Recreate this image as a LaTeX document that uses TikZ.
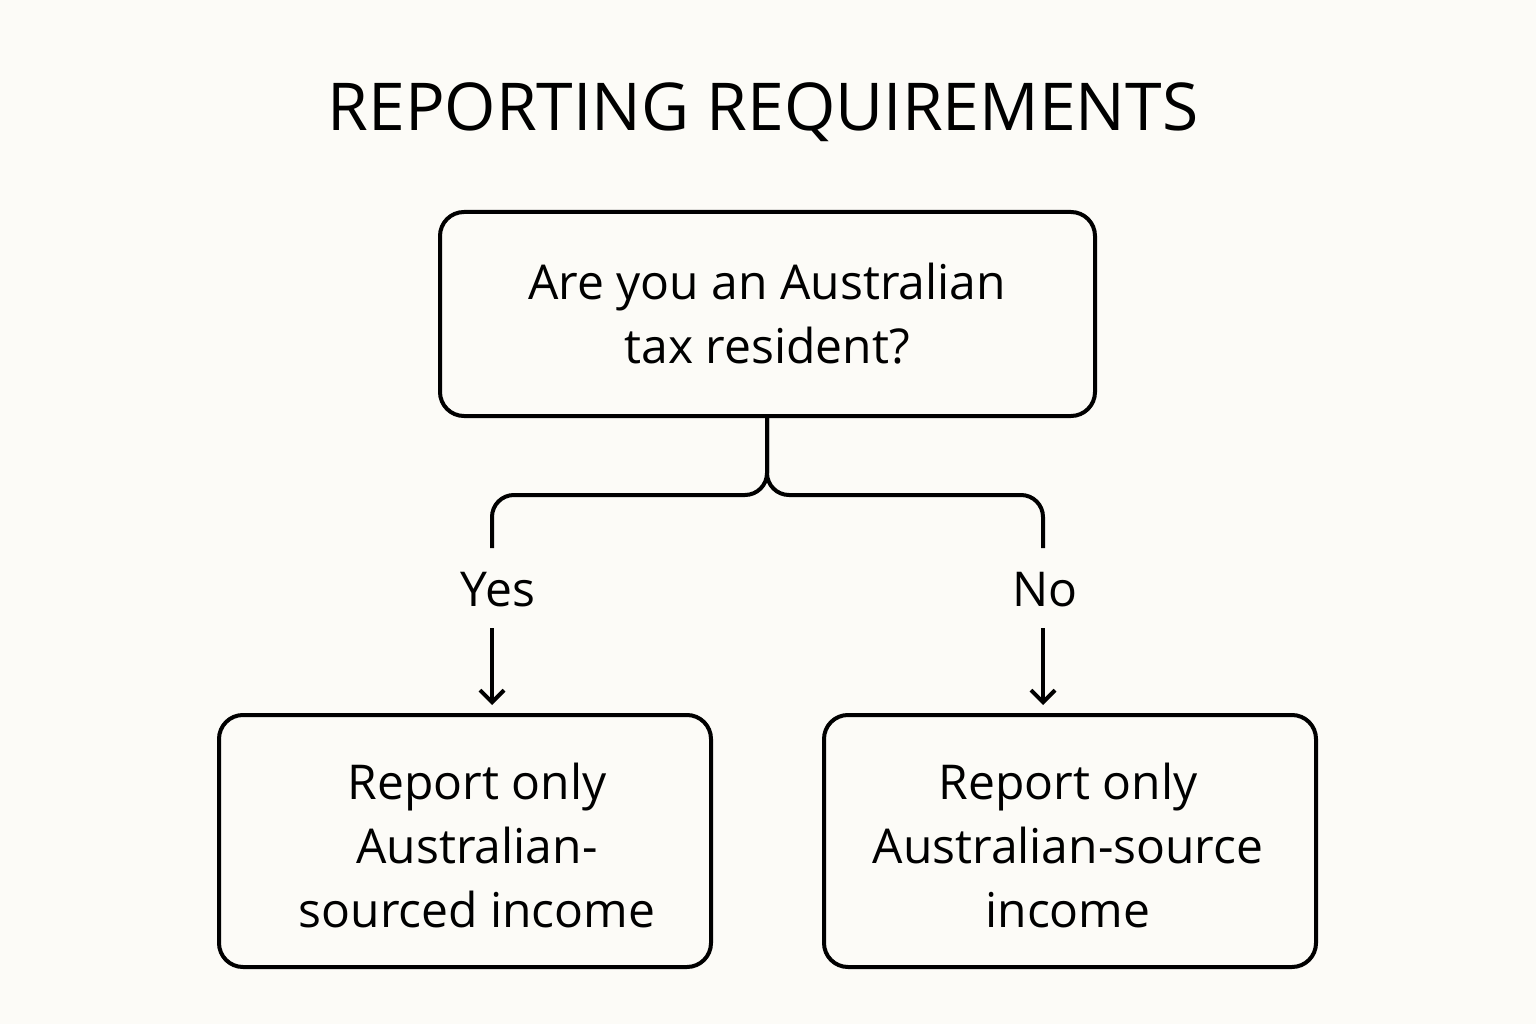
\documentclass[tikz,border=0pt]{standalone}
\usepackage{fontspec}
\setmainfont{Open Sans}
\begin{document}
\begin{tikzpicture}[x=1pt,y=-1pt,
  box/.style={draw=black,line width=4pt,rounded corners=24pt},
  txt/.style={align=center,font=\fontsize{48}{64}\selectfont,inner sep=0pt},
  ln/.style={line width=4pt,draw=black},
  arr/.style={ln,-{Straight Barb[length=12pt,width=24pt,line width=4pt]}}]
\usetikzlibrary{arrows.meta}
\fill[white!97!yellow!60!gray] (0,0) rectangle (1536,1024);
\fill[fill={rgb,255:red,252;green,251;blue,247}] (0,0) rectangle (1536,1024);
\node[inner sep=0pt,font=\fontsize{66}{70}\selectfont] (title) at (763,112) {REPORTING REQUIREMENTS};
\draw[box] (440,212) rectangle (1095,416);
\node[txt] (q) at (767,314) {Are you an Australian\\tax resident?};
\coordinate (qb) at (767,416);
\draw[box] (219,715) rectangle (711,967);
\node[txt] (yesbox) at (477,845) {Report only\\Australian-\\sourced income};
\draw[box] (824,715) rectangle (1316,967);
\node[txt] (nobox) at (1068,845) {Report only\\Australian-source\\income};
\coordinate (yb) at (492,548);
\coordinate (nb) at (1043,548);
\draw[ln,rounded corners=22pt] (qb) -- (767,495) -| (yb);
\draw[ln,rounded corners=22pt] (qb) -- (767,495) -| (nb);
\node[txt] (yes) at (498,590) {Yes};
\node[txt] (no) at (1045,590) {No};
\coordinate (ya) at (492,628);
\coordinate (na) at (1043,628);
\draw[arr] (ya) -- (492,705);
\draw[arr] (na) -- (1043,705);
\end{tikzpicture}
\end{document}
